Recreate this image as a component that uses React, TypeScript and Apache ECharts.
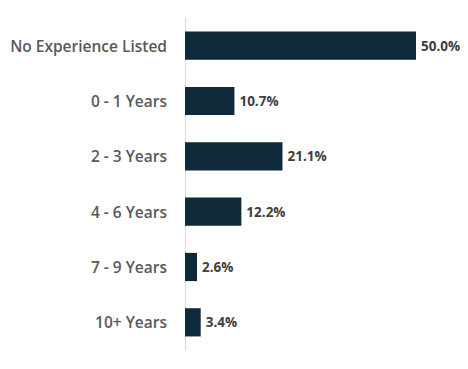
import React, { useEffect, useRef } from "react";
import * as echarts from "echarts";

const categories = ["No Experience Listed", "0 - 1 Years", "2 - 3 Years", "4 - 6 Years", "7 - 9 Years", "10+ Years"];
const values = [50.0, 10.7, 21.1, 12.2, 2.6, 3.4];

export default function App() {
  const ref = useRef<HTMLDivElement>(null);
  useEffect(() => {
    if (!ref.current) return;
    const chart = echarts.init(ref.current, undefined, { renderer: "svg" });
    chart.setOption({
      animation: false,
      grid: { left: 185, right: 52, top: 18, bottom: 19, containLabel: false },
      xAxis: {
        type: "value",
        min: 0,
        max: 50,
        show: false,
      },
      yAxis: {
        type: "category",
        inverse: true,
        data: categories,
        axisLine: { show: true, lineStyle: { color: "#D9D9D9", width: 1 } },
        axisTick: { show: false },
        axisLabel: {
          margin: 18,
          color: "#595959",
          fontFamily: "Open Sans",
          fontWeight: 600,
          fontSize: 15.5,
        },
      },
      series: [
        {
          type: "bar",
          data: values,
          barWidth: "51%",
          itemStyle: { color: "#0E2939" },
          label: {
            show: true,
            position: "right",
            distance: 5,
            formatter: (p: any) => p.value.toFixed(1) + "%",
            color: "#404040",
            fontFamily: "Open Sans",
            fontWeight: 700,
            fontSize: 13.5,
          },
        },
      ],
    });
    return () => chart.dispose();
  }, []);
  return <div ref={ref} style={{ width: 468, height: 369, position: "absolute", left: 0, top: 0 }} />;
}
